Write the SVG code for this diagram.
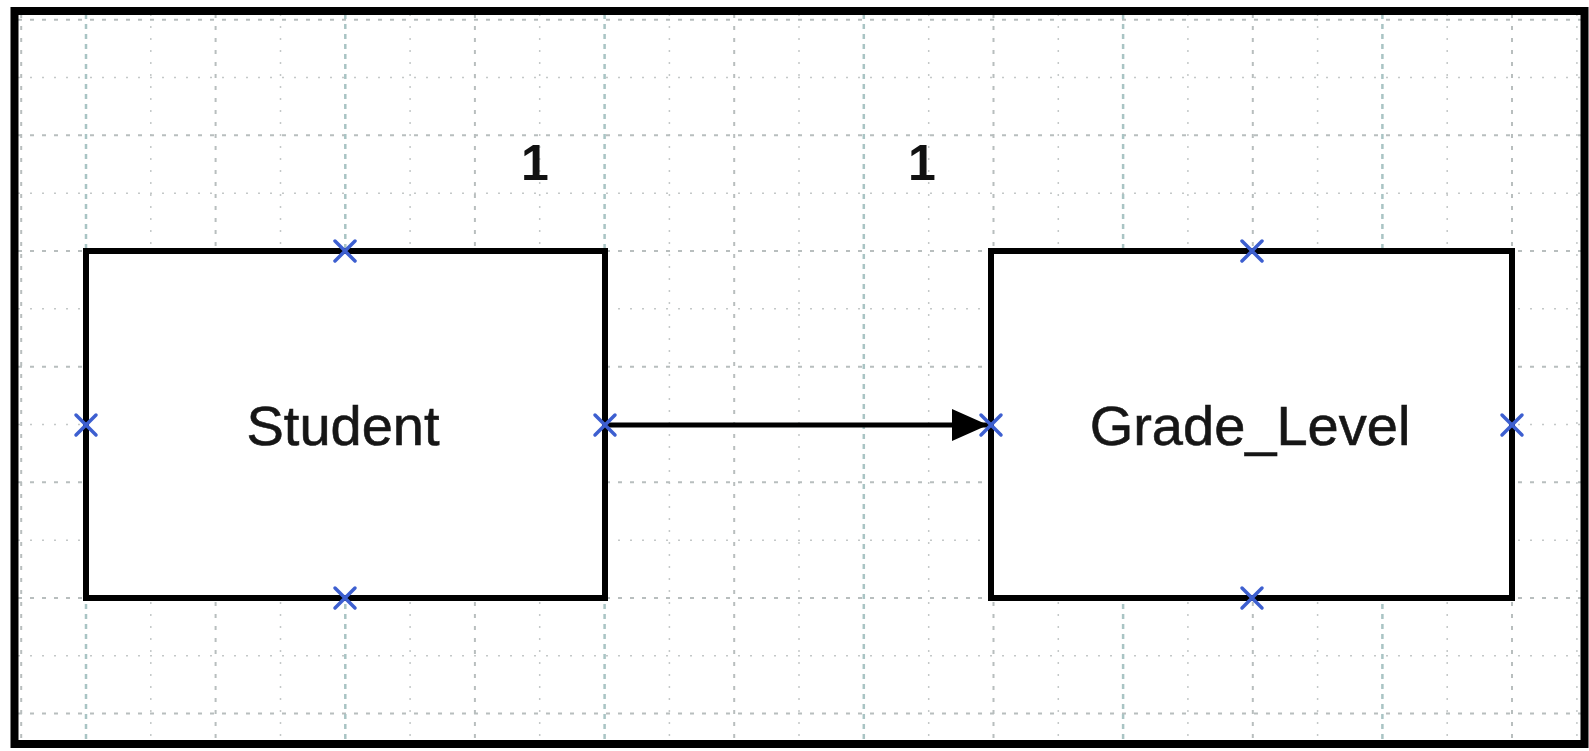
<svg xmlns="http://www.w3.org/2000/svg" width="1589" height="751" viewBox="0 0 1589 751">
  <style>
    .g-minor { stroke: #c4c8c8; stroke-width: 1.5; stroke-dasharray: 2 10; fill: none; }
    .g-mid { stroke: #b8bebe; stroke-width: 2; stroke-dasharray: 4 8; fill: none; }
    .g-major { stroke: #a9c4c4; stroke-width: 2.5; stroke-dasharray: 5 5; fill: none; }
    .entity { fill: #ffffff; stroke: #000000; stroke-width: 6; }
    .label { font-family: "Liberation Sans", Arial, sans-serif; font-size: 56px; fill: #161616; stroke: #161616; stroke-width: 0.6; text-anchor: middle; }
    .mult { font-family: "Liberation Sans", Arial, sans-serif; font-size: 50px; font-weight: bold; fill: #111111; text-anchor: middle; }
    .port { stroke: #3d5fd0; stroke-width: 3.5; stroke-linecap: round; fill: none; }
    .link { stroke: #000000; stroke-width: 5; fill: none; }
  </style>
  <defs>
    <marker id="arrowhead" markerUnits="userSpaceOnUse" markerWidth="40" markerHeight="34" refX="36" refY="16" orient="auto">
      <path d="M0,0 L36,16 L0,32 Z" fill="#000000"/>
    </marker>
    <path id="cross" d="M-10,-10 L10,10 M-10,10 L10,-10"/>
  </defs>

  <rect x="0" y="0" width="1589" height="751" fill="#ffffff"/>

  <!-- background grid: cells 64.82 x 57.83, origin at (86, 251) -->
  <g id="grid">
    <g class="g-minor">
      <line x1="150.8" y1="14" x2="150.8" y2="742"/>
      <line x1="280.5" y1="14" x2="280.5" y2="742"/>
      <line x1="410.1" y1="14" x2="410.1" y2="742"/>
      <line x1="539.7" y1="14" x2="539.7" y2="742"/>
      <line x1="669.4" y1="14" x2="669.4" y2="742"/>
      <line x1="799.0" y1="14" x2="799.0" y2="742"/>
      <line x1="928.7" y1="14" x2="928.7" y2="742"/>
      <line x1="1058.3" y1="14" x2="1058.3" y2="742"/>
      <line x1="1187.9" y1="14" x2="1187.9" y2="742"/>
      <line x1="1317.6" y1="14" x2="1317.6" y2="742"/>
      <line x1="1447.2" y1="14" x2="1447.2" y2="742"/>
      <line x1="1576.9" y1="14" x2="1576.9" y2="742"/>
      <line x1="18" y1="77.5" x2="1582" y2="77.5"/>
      <line x1="18" y1="193.2" x2="1582" y2="193.2"/>
      <line x1="18" y1="308.8" x2="1582" y2="308.8"/>
      <line x1="18" y1="424.5" x2="1582" y2="424.5"/>
      <line x1="18" y1="540.2" x2="1582" y2="540.2"/>
      <line x1="18" y1="655.8" x2="1582" y2="655.8"/>
    </g>
    <g class="g-mid">
      <line x1="21.2" y1="14" x2="21.2" y2="742"/>
      <line x1="215.6" y1="14" x2="215.6" y2="742"/>
      <line x1="474.9" y1="14" x2="474.9" y2="742"/>
      <line x1="734.2" y1="14" x2="734.2" y2="742"/>
      <line x1="993.5" y1="14" x2="993.5" y2="742"/>
      <line x1="1252.8" y1="14" x2="1252.8" y2="742"/>
      <line x1="1512.0" y1="14" x2="1512.0" y2="742"/>
      <line x1="18" y1="19.7" x2="1582" y2="19.7"/>
      <line x1="18" y1="135.3" x2="1582" y2="135.3"/>
      <line x1="18" y1="251" x2="1582" y2="251"/>
      <line x1="18" y1="366.7" x2="1582" y2="366.7"/>
      <line x1="18" y1="482.3" x2="1582" y2="482.3"/>
      <line x1="18" y1="598" x2="1582" y2="598"/>
      <line x1="18" y1="713.6" x2="1582" y2="713.6"/>
    </g>
    <g class="g-major">
      <line x1="86" y1="14" x2="86" y2="742"/>
      <line x1="345.3" y1="14" x2="345.3" y2="742"/>
      <line x1="604.6" y1="14" x2="604.6" y2="742"/>
      <line x1="863.8" y1="14" x2="863.8" y2="742"/>
      <line x1="1123.1" y1="14" x2="1123.1" y2="742"/>
      <line x1="1382.4" y1="14" x2="1382.4" y2="742"/>
    </g>
  </g>

  <!-- relationship -->
  <g id="connectors">
    <line class="link" x1="605" y1="425" x2="988" y2="425" marker-end="url(#arrowhead)"/>
    <text class="mult" x="535" y="180">1</text>
    <text class="mult" x="922" y="180">1</text>
  </g>

  <g id="student">
    <rect class="entity" x="86" y="251" width="519" height="347"/>
    <text class="label" x="343" y="445">Student</text>
    <g class="port">
      <use href="#cross" x="345" y="251"/>
      <use href="#cross" x="345" y="598"/>
      <use href="#cross" x="86" y="425"/>
      <use href="#cross" x="605" y="425"/>
    </g>
  </g>

  <g id="grade_level">
    <rect class="entity" x="991" y="251" width="521" height="347"/>
    <text class="label" x="1250" y="445">Grade_Level</text>
    <g class="port">
      <use href="#cross" x="1252" y="251"/>
      <use href="#cross" x="1252" y="598"/>
      <use href="#cross" x="991" y="425"/>
      <use href="#cross" x="1512" y="425"/>
    </g>
  </g>

  <!-- outer frame -->
  <rect id="frame" x="14.5" y="11" width="1570" height="733" fill="none" stroke="#000000" stroke-width="8"/>
</svg>
